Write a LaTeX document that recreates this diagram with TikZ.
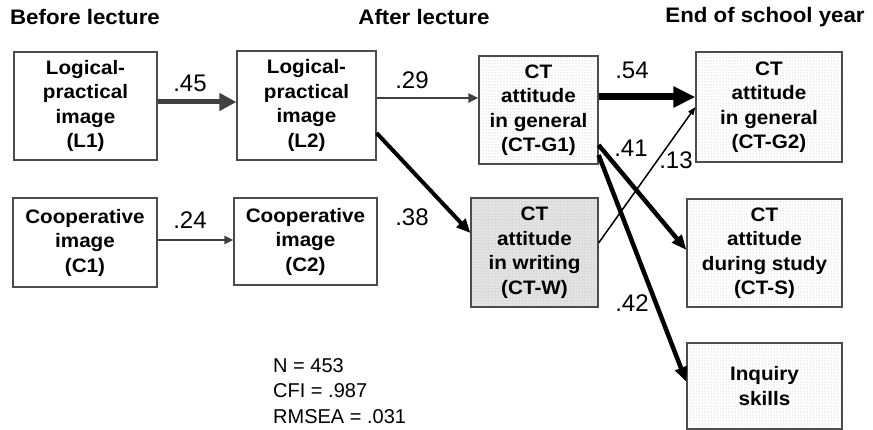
\documentclass[tikz,border=0pt]{standalone}
\usepackage{fontspec}
\setmainfont{Liberation Sans}
\newfontfamily\widefont[FakeStretch=1.06]{Liberation Sans}
\usetikzlibrary{arrows.meta,patterns}
\tikzset{
  box/.style={draw=black!70, line width=1.2pt, align=center, inner sep=0pt,
    font=\widefont\fontsize{19.5}{24.5}\selectfont\bfseries},
  lightbox/.style={box, preaction={fill=white}, pattern=dots, pattern color=gray!55},
  darkbox/.style={box, preaction={fill=gray!22}, pattern=dots, pattern color=gray!65},
  title/.style={font=\widefont\fontsize{21}{26}\selectfont\bfseries, inner sep=0pt},
  elabel/.style={font=\fontsize{24}{28}\selectfont, inner sep=0pt},
  stat/.style={font=\fontsize{20}{25.5}\selectfont, align=left, inner sep=0pt, anchor=north west},
}
\begin{document}
\begin{tikzpicture}[x=1pt,y=-1pt]
\useasboundingbox (0,0) rectangle (873,430);
% titles
\node[title] (t1) at (85,17) {Before lecture};
\node[title] (t2) at (424,17) {After lecture};
\node[title] (t3) at (765,17) {End of school year};
% boxes
\node[box, minimum width=143pt, minimum height=108pt] (L1) at (85.5,106) {Logical-\\practical\\image\\(L1)};
\node[box, minimum width=139pt, minimum height=109pt] (L2) at (306.5,105.5) {Logical-\\practical\\image\\(L2)};
\node[box, minimum width=144pt, minimum height=89pt] (C1) at (85,242.5) {Cooperative\\image\\(C1)};
\node[box, minimum width=143pt, minimum height=87pt] (C2) at (305.5,241.5) {Cooperative\\image\\(C2)};
\node[lightbox, minimum width=119pt, minimum height=108pt] (G1) at (538.5,110) {CT\\attitude\\in general\\(CT-G1)};
\node[darkbox, minimum width=127pt, minimum height=109pt] (W) at (534.5,252.5) {CT\\attitude\\in writing\\(CT-W)};
\node[lightbox, minimum width=146pt, minimum height=110pt] (G2) at (769,107) {CT\\attitude\\in general\\(CT-G2)};
\node[lightbox, minimum width=155pt, minimum height=108pt] (S) at (764.5,253) {CT\\attitude\\during study\\(CT-S)};
\node[lightbox, minimum width=155pt, minimum height=86pt] (I) at (764.5,386) {Inquiry\\skills};
% arrows
\draw[line width=5pt, draw=black!75, -{Triangle[length=17pt,width=17pt]}]
  (L1.east |- 0,102) -- (L2.west |- 0,102);
\draw[line width=2.8pt, draw=black!75, -{Triangle[length=10pt,width=9pt]}]
  (L2.east |- 0,98) -- (G1.west |- 0,98);
\draw[line width=2.8pt, draw=black!75, -{Triangle[length=9pt,width=8pt]}]
  (C1.east |- 0,240) -- (C2.west |- 0,240);
\draw[line width=4pt, -{Triangle[length=14pt,width=12pt]}]
  (L2.east |- 0,133) -- (W.west |- 0,233);
\draw[line width=7pt, -{Triangle[length=22pt,width=20pt]}]
  (G1.east |- 0,97) -- (G2.west |- 0,97);
\draw[line width=4.5pt, -{Triangle[length=15pt,width=12pt]}]
  (G1.east |- 0,145) -- (S.west |- 0,250);
\draw[line width=4.5pt, -{Triangle[length=15pt,width=12pt]}]
  (G1.east |- 0,155) -- (I.west |- 0,382);
\draw[line width=1.5pt, -{Triangle[length=8pt,width=6pt]}]
  (W.east |- 0,243) -- (G2.west |- 0,107);
% edge labels
\node[elabel] (e45) at (190,83) {.45};
\node[elabel] (e29) at (412,80) {.29};
\node[elabel] (e24) at (190,220) {.24};
\node[elabel] (e38) at (412,217) {.38};
\node[elabel] (e54) at (632,70) {.54};
\node[elabel] (e41) at (631,148) {.41};
\node[elabel] (e13) at (676,160) {.13};
\node[elabel] (e42) at (632,303) {.42};
% statistics
\node[stat] (stats) at (273,358) {N = 453\\CFI = .987\\RMSEA = .031};
\end{tikzpicture}
\end{document}
